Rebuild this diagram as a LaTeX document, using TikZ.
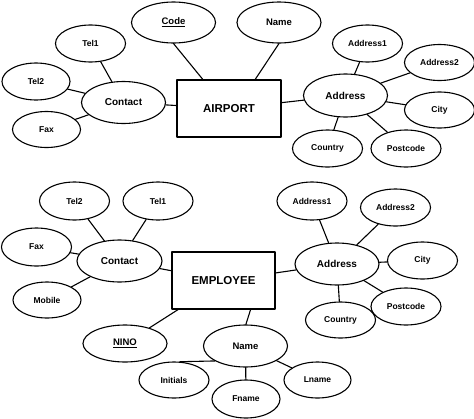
\documentclass[tikz,border=0pt]{standalone}
\usepackage{fontspec}
\setmainfont{Liberation Sans}
\usetikzlibrary{shapes.geometric}
\begin{document}
\begin{tikzpicture}[x=1pt,y=-1pt,line join=round,line cap=round,line width=1.1pt,
	attr/.style={draw,ellipse,inner sep=0pt,minimum width=70pt,minimum height=37pt,font=\fontsize{8.5}{10}\selectfont\bfseries},
	keyattr/.style={attr,minimum width=84pt,minimum height=41pt,font=\fontsize{9.5}{11}\selectfont\bfseries},
	comp/.style={attr,minimum width=84pt,minimum height=42pt,font=\fontsize{10}{12}\selectfont\bfseries},
	entity/.style={draw,rectangle,minimum width=104pt,minimum height=57pt,font=\fontsize{11.5}{14}\selectfont\bfseries}]
	\useasboundingbox (0,0) rectangle (474,418);
	% Thực thể AIRPORT
	\node[entity] (ap) at (229,108.5) {AIRPORT};
	\node[keyattr] (apcode) at (173.5,22.5) {\underline{Code}};
	\node[keyattr] (apname) at (279,22.5) {Name};
	\node[comp] (apcon) at (123.5,102.5) {Contact};
	\node[attr] (aptel1) at (90.5,43.5) {Tel1};
	\node[attr,minimum width=68pt] (aptel2) at (36,81.5) {Tel2};
	\node[attr,minimum width=68pt,minimum height=36pt] (apfax) at (46.5,129.5) {Fax};
	\node[comp,minimum height=43pt] (apadd) at (345.5,95.5) {Address};
	\node[attr] (apadd1) at (367.5,43.5) {Address1};
	\node[attr,minimum height=36pt] (apadd2) at (439.5,62.5) {Address2};
	\node[attr,minimum height=36pt] (apcity) at (439.5,110) {City};
	\node[attr] (apcountry) at (327.5,148.5) {Country};
	\node[attr] (appost) at (406,148.5) {Postcode};
	% Thực thể EMPLOYEE
	\node[entity,minimum width=103pt] (em) at (223.5,280.5) {EMPLOYEE};
	\node[comp,minimum width=85pt] (emcon) at (119.5,261) {Contact};
	\node[attr,minimum height=38pt] (emtel2) at (74.5,201) {Tel2};
	\node[attr,minimum height=38pt] (emtel1) at (158,201) {Tel1};
	\node[attr,minimum height=38pt] (emfax) at (36.5,247) {Fax};
	\node[attr,minimum width=68pt,minimum height=36pt] (emmob) at (47,300) {Mobile};
	\node[keyattr,minimum height=37pt] (emnino) at (125,343.5) {\underline{NINO}};
	\node[comp,font=\fontsize{9.5}{11}\selectfont\bfseries] (emname) at (245.5,346) {Name};
	\node[attr,minimum height=36pt] (emini) at (174,380) {Initials};
	\node[attr,minimum width=68pt,minimum height=38pt] (emfn) at (246,399) {Fname};
	\node[attr,minimum width=67pt,minimum height=36pt] (emln) at (317.5,380) {Lname};
	\node[comp] (emadd) at (337,264) {Address};
	\node[attr,minimum height=38pt] (emadd1) at (312,201) {Address1};
	\node[attr] (emadd2) at (395.5,207.5) {Address2};
	\node[attr] (emcity) at (422.5,260.5) {City};
	\node[attr] (empost) at (406,306.5) {Postcode};
	\node[attr,minimum height=36pt] (emcountry) at (340.5,320) {Country};
	% Các đường nối
	\foreach \a/\b in {ap/apcon,ap/apadd,apcon/aptel1,apcon/aptel2,apcon/apfax,
		apadd/apadd1,apadd/apadd2,apadd/apcity,apadd/apcountry,apadd/appost,
		em/emcon,em/emnino,em/emadd,emcon/emtel2,emcon/emtel1,emcon/emfax,emcon/emmob,
		emname/emfn,emname/emln,
		emadd/emadd1,emadd/emadd2,emadd/emcity,emadd/empost,emadd/emcountry}{
		\draw (\a) -- (\b);
	}
	\draw (ap.132) -- (apcode.south);
	\draw (ap.48) -- (apname.south);
	\draw (em.313) -- (emname.89);
	\draw (emini.72) -- (emname.206);
\end{tikzpicture}
\end{document}
